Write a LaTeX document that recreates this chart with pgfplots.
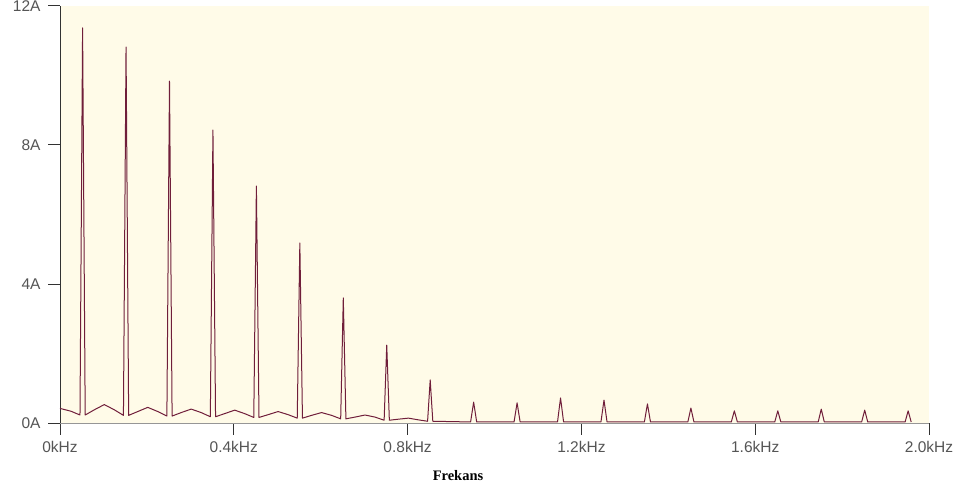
\documentclass[border=0pt]{standalone}
\usepackage{fontspec}
\setmainfont{Liberation Sans}
\newfontfamily\serifbold{Liberation Serif}
\usepackage{pgfplots}
\pgfplotsset{compat=1.18}
\definecolor{cream}{RGB}{255,251,232}
\definecolor{trace}{RGB}{112,30,58}
\definecolor{ticktext}{RGB}{85,85,85}
\begin{document}
\begin{tikzpicture}
\useasboundingbox (-60bp,-67bp) rectangle (898bp,423bp);
\begin{axis}[
  scale only axis,
  width=869bp, height=417bp,
  xmin=0, xmax=2.0, ymin=0, ymax=12,
  axis x line=bottom, axis y line=left,
  axis line style={-},
  x axis line style={draw={rgb,255:red,150;green,150;blue,150}, line width=1pt},
  y axis line style={draw={rgb,255:red,50;green,50;blue,50}, line width=1pt},
  axis background/.style={fill=cream},
  xtick={0,0.4,0.8,1.2,1.6,2.0},
  xticklabels={0kHz,0.4kHz,0.8kHz,1.2kHz,1.6kHz,2.0kHz},
  ytick={0,4,8,12},
  yticklabels={0A,4A,8A,12A},
  tick align=outside,
  major tick length=12bp,
  ytick style={draw={rgb,255:red,50;green,50;blue,50}, line width=1pt},
  xtick style={draw={rgb,255:red,50;green,50;blue,50}, line width=1pt},
  minor tick num=0,
  tick label style={font=\fontsize{15.5bp}{18bp}\selectfont, text=ticktext},
  xticklabel style={yshift=-3bp},
  yticklabel style={xshift=-4bp},
  /pgf/number format/assume math mode=true,
  xlabel={\serifbold\bfseries Frekans},
  xlabel style={font=\fontsize{14.5bp}{17bp}\selectfont, at={(axis description cs:0.458,0)}, anchor=center, yshift=-53bp},
  clip=false,
]
\addplot[trace, line width=1bp, line join=round] coordinates {
(0.000,0.42) (0.025,0.34) (0.046,0.23) (0.052,11.37) (0.058,0.23)
(0.079,0.38) (0.102,0.53) (0.125,0.38) (0.146,0.22) (0.152,10.82) (0.158,0.22)
(0.179,0.33) (0.202,0.45) (0.225,0.33) (0.246,0.20) (0.252,9.84) (0.258,0.20)
(0.279,0.30) (0.302,0.40) (0.325,0.30) (0.346,0.18) (0.352,8.43) (0.358,0.18)
(0.379,0.27) (0.402,0.37) (0.425,0.27) (0.446,0.16) (0.452,6.82) (0.458,0.16)
(0.479,0.24) (0.502,0.33) (0.525,0.24) (0.546,0.14) (0.552,5.18) (0.558,0.14)
(0.579,0.22) (0.602,0.30) (0.625,0.22) (0.646,0.12) (0.652,3.60) (0.658,0.12)
(0.679,0.17) (0.702,0.23) (0.725,0.17) (0.746,0.08) (0.752,2.24) (0.758,0.08)
(0.779,0.11) (0.802,0.14) (0.825,0.09) (0.846,0.05) (0.852,1.24) (0.858,0.05)
(0.902,0.04) (0.945,0.03) (0.952,0.60) (0.959,0.03)
(1.045,0.03) (1.052,0.58) (1.059,0.03)
(1.145,0.03) (1.152,0.72) (1.159,0.03)
(1.245,0.03) (1.252,0.66) (1.259,0.03)
(1.345,0.03) (1.352,0.55) (1.359,0.03)
(1.445,0.03) (1.452,0.43) (1.459,0.03)
(1.545,0.03) (1.552,0.35) (1.559,0.03)
(1.645,0.03) (1.652,0.35) (1.659,0.03)
(1.745,0.03) (1.752,0.40) (1.759,0.03)
(1.845,0.03) (1.852,0.37) (1.859,0.03)
(1.945,0.03) (1.952,0.35) (1.959,0.03)
};
\end{axis}
\end{tikzpicture}
\end{document}
